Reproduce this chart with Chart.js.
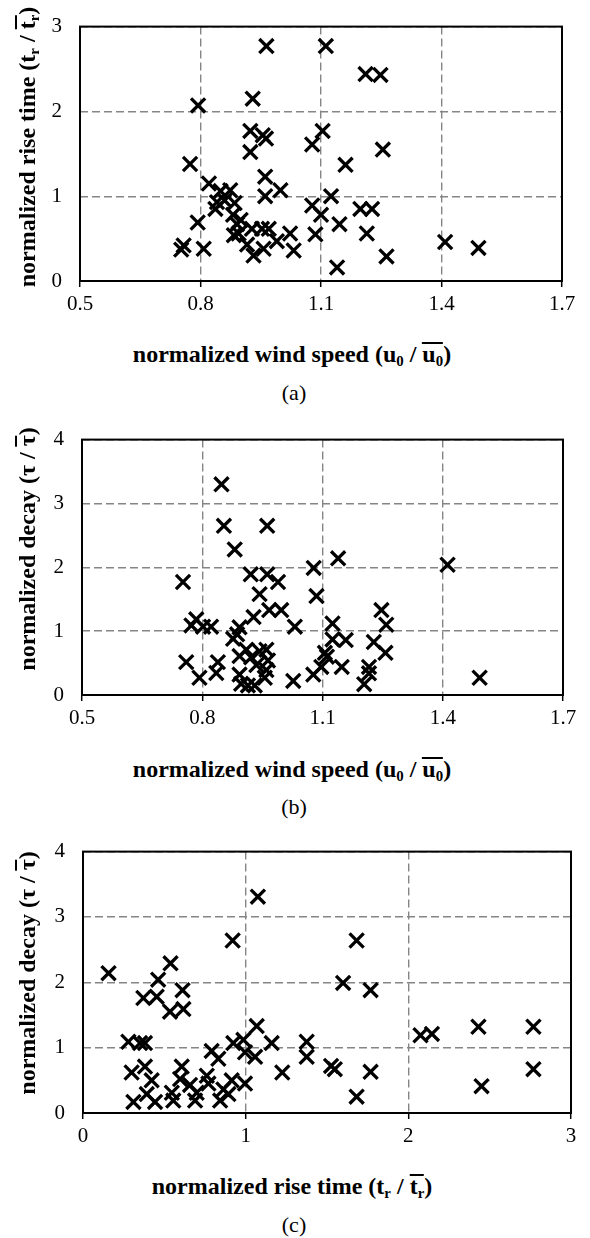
<!DOCTYPE html>
<html>
<head>
<meta charset="utf-8">
<script src="https://cdn.jsdelivr.net/npm/chart.js@4.4.1/dist/chart.umd.min.js"></script>
<style>
  body { margin: 0; background: #fff; }
  #page { position: relative; width: 590px; height: 1238px; overflow: hidden; font-family: "Liberation Serif", "Times New Roman", Tinos, "DejaVu Serif", serif; color: #000; }
  canvas { position: absolute; left: 0; }
  .xt, .yt, .cap { position: absolute; white-space: nowrap; line-height: 1; transform: translate(-50%, -50%); }
  .xt, .yt { font-weight: bold; font-size: 24px; }
  .yt { transform: translate(-50%, -50%) rotate(-90deg); }
  .cap { font-size: 22px; }
  .ov { display: inline-block; border-top: 2px solid #000; line-height: 0.85; }
  sub { font-size: 0.62em; vertical-align: -0.3em; line-height: 0; }
</style>
</head>
<body>
<div id="page">
  <canvas id="chartA"></canvas>
  <canvas id="chartB"></canvas>
  <canvas id="chartC"></canvas>

  <div class="yt" style="left:27px; top:147px;">normalized rise time (t<sub>r</sub> / <span class="ov">t<sub>r</sub></span>)</div>
  <div class="xt" style="left:292px; top:354px;">normalized wind speed (u<sub>0</sub> / <span class="ov">u<sub>0</sub></span>)</div>
  <div class="cap" style="left:294px; top:393px;">(a)</div>

  <div class="yt" style="left:27px; top:549px;">normalized decay (τ / <span class="ov">τ</span>)</div>
  <div class="xt" style="left:292px; top:769px;">normalized wind speed (u<sub>0</sub> / <span class="ov">u<sub>0</sub></span>)</div>
  <div class="cap" style="left:294px; top:807px;">(b)</div>

  <div class="yt" style="left:27px; top:973px;">normalized decay (τ / <span class="ov">τ</span>)</div>
  <div class="xt" style="left:292px; top:1186px;">normalized rise time (t<sub>r</sub> / <span class="ov">t<sub>r</sub></span>)</div>
  <div class="cap" style="left:294px; top:1225px;">(c)</div>
</div>

<script>
// tick labels
const windTicks = [0.5, 0.8, 1.1, 1.4, 1.7];
const riseTicks = [0, 1, 2, 3];
const decayTicks = [0, 1, 2, 3, 4];

// (a) normalized wind speed vs normalized rise time
const windA = [0.964, 1.112, 1.211, 1.248, 0.794, 0.930, 0.924, 0.955, 0.963, 0.924,
  1.104, 1.078, 1.254, 1.161, 0.774, 0.961, 0.999, 0.961, 0.821, 0.850,
  0.874, 0.841, 0.837, 0.860, 0.885, 0.881, 0.891, 0.883, 0.895, 0.900,
  0.793, 0.752, 0.758, 0.808, 0.928, 0.953, 0.970, 0.916, 0.932, 0.957,
  0.990, 1.023, 1.032, 1.078, 1.086, 1.100, 1.125, 1.146, 1.140, 1.198,
  1.227, 1.214, 1.263, 1.409, 1.492];
const riseA = [2.77, 2.77, 2.44, 2.43, 2.07, 2.15, 1.77, 1.72, 1.68, 1.52,
  1.77, 1.61, 1.55, 1.37, 1.38, 1.23, 1.07, 1.00, 1.15, 1.06,
  1.07, 0.93, 0.85, 0.95, 0.92, 0.78, 0.67, 0.54, 0.56, 0.72,
  0.69, 0.37, 0.42, 0.38, 0.615, 0.615, 0.615, 0.43, 0.30, 0.38,
  0.47, 0.56, 0.36, 0.89, 0.55, 0.78, 1.00, 0.67, 0.16, 0.85,
  0.85, 0.56, 0.29, 0.46, 0.39];

// (b) normalized wind speed vs normalized decay
const windB = [0.848, 0.854, 0.962, 0.881, 0.752, 0.921, 0.962, 0.989, 0.943, 1.078,
  1.085, 1.139, 1.412, 0.967, 0.997, 0.928, 1.247, 1.259, 1.125, 1.031,
  0.773, 0.785, 0.802, 0.822, 0.893, 0.877, 0.887, 1.125, 1.158, 1.106,
  1.111, 1.228, 1.257, 0.760, 0.793, 0.839, 0.835, 0.893, 0.910, 0.922,
  0.943, 0.960, 0.964, 0.960, 0.956, 0.935, 0.893, 0.897, 0.914, 0.931,
  1.027, 1.077, 1.097, 1.148, 1.204, 1.216, 1.216, 1.492];
const decayB = [3.30, 2.65, 2.65, 2.28, 1.77, 1.89, 1.89, 1.77, 1.58, 1.99,
  1.55, 2.14, 2.04, 1.33, 1.33, 1.22, 1.33, 1.10, 1.12, 1.07,
  1.09, 1.185, 1.07, 1.07, 1.06, 0.88, 0.95, 0.87, 0.86, 0.66,
  0.60, 0.83, 0.66, 0.515, 0.27, 0.515, 0.345, 0.61, 0.71, 0.59,
  0.685, 0.71, 0.54, 0.39, 0.27, 0.47, 0.32, 0.175, 0.15, 0.15,
  0.22, 0.32, 0.44, 0.44, 0.17, 0.44, 0.34, 0.27];

// (c) normalized rise time vs normalized decay
const riseC = [1.075, 0.920, 1.682, 0.157, 0.538, 0.462, 0.612, 0.371, 0.453, 0.535,
  0.617, 1.599, 1.768, 1.068, 2.075, 2.145, 2.431, 2.769, 2.769, 2.450,
  1.768, 1.682, 1.525, 1.548, 1.375, 1.375, 1.225, 1.160, 1.058, 0.996,
  0.986, 0.924, 0.279, 0.351, 0.381, 0.791, 0.832, 0.299, 0.381, 0.422,
  0.607, 0.597, 0.658, 0.699, 0.761, 0.771, 0.914, 0.996, 0.863, 0.894,
  0.843, 0.546, 0.555, 0.689, 0.392, 0.310, 0.443];
const decayC = [3.31, 2.64, 2.64, 2.14, 2.29, 2.04, 1.88, 1.76, 1.78, 1.55,
  1.59, 1.99, 1.88, 1.33, 1.19, 1.21, 1.32, 1.32, 0.67, 0.41,
  0.63, 0.25, 0.72, 0.67, 1.09, 0.86, 0.62, 1.07, 0.86, 0.93,
  1.12, 1.07, 1.09, 1.07, 1.07, 0.95, 0.83, 0.62, 0.71, 0.50,
  0.71, 0.52, 0.43, 0.31, 0.57, 0.45, 0.50, 0.45, 0.36, 0.29,
  0.19, 0.31, 0.19, 0.19, 0.29, 0.17, 0.17];

const FONT = '"Liberation Serif", "Times New Roman", Tinos, "DejaVu Serif", serif';

function pts(xs, ys) {
  return xs.map((x, i) => ({ x: x, y: ys[i] }));
}

// solid frame round the plot area
const boxPlugin = {
  id: 'box',
  beforeDatasetsDraw(chart) {
    const a = chart.chartArea, c = chart.ctx;
    c.save();
    c.strokeStyle = '#000';
    c.lineWidth = 2;
    c.strokeRect(a.left, a.top, a.right - a.left, a.bottom - a.top);
    c.restore();
  }
};

function makeChart(id, box, xs, ys, xTicks, yTicks) {
  const cv = document.getElementById(id);
  const top = box.top - 12;
  const xh = 34;
  cv.width = 590;
  cv.height = box.bottom - top + xh;
  cv.style.top = top + 'px';

  // grid lines are dashed through border.dash in Chart.js v4
  const gridStyle = { color: '#858585', lineWidth: 1.4 };
  const borderStyle = { display: false, dash: [8, 4] };

  new Chart(cv, {
    type: 'scatter',
    data: {
      datasets: [{
        data: pts(xs, ys),
        pointStyle: 'crossRot',
        pointRadius: 10,
        pointBorderWidth: 3.3,
        borderColor: '#000',
        backgroundColor: '#000'
      }]
    },
    options: {
      responsive: false,
      animation: false,
      devicePixelRatio: 1,
      events: [],
      layout: { padding: { top: 12, left: 0, right: 590 - box.right, bottom: 0 } },
      plugins: { legend: { display: false }, tooltip: { enabled: false } },
      scales: {
        x: {
          type: 'linear',
          min: xTicks[0],
          max: xTicks[xTicks.length - 1],
          afterBuildTicks: s => { s.ticks = xTicks.map(v => ({ value: v })); },
          afterFit: s => { s.height = xh; },
          border: borderStyle,
          grid: Object.assign({
            drawTicks: true, tickLength: 6, tickColor: '#000', tickWidth: 1.5, tickBorderDash: []
          }, gridStyle),
          ticks: {
            color: '#000', font: { family: FONT, size: 21 }, padding: 5,
            maxRotation: 0, autoSkip: false, callback: v => String(v)
          }
        },
        y: {
          type: 'linear',
          min: yTicks[0],
          max: yTicks[yTicks.length - 1],
          afterBuildTicks: s => { s.ticks = yTicks.map(v => ({ value: v })); },
          afterFit: s => { s.width = box.left; },
          border: borderStyle,
          grid: Object.assign({ drawTicks: false }, gridStyle),
          ticks: {
            color: '#000', font: { family: FONT, size: 21 }, padding: 18,
            autoSkip: false, callback: v => String(v)
          }
        }
      }
    },
    plugins: [boxPlugin]
  });
}

makeChart('chartA', { left: 80, right: 562, top: 8, bottom: 281 }, windA, riseA, windTicks, riseTicks);
makeChart('chartB', { left: 82, right: 563, top: 421, bottom: 695 }, windB, decayB, windTicks, decayTicks);
makeChart('chartC', { left: 83, right: 571, top: 833, bottom: 1113 }, riseC, decayC, riseTicks, decayTicks);
</script>
</body>
</html>
